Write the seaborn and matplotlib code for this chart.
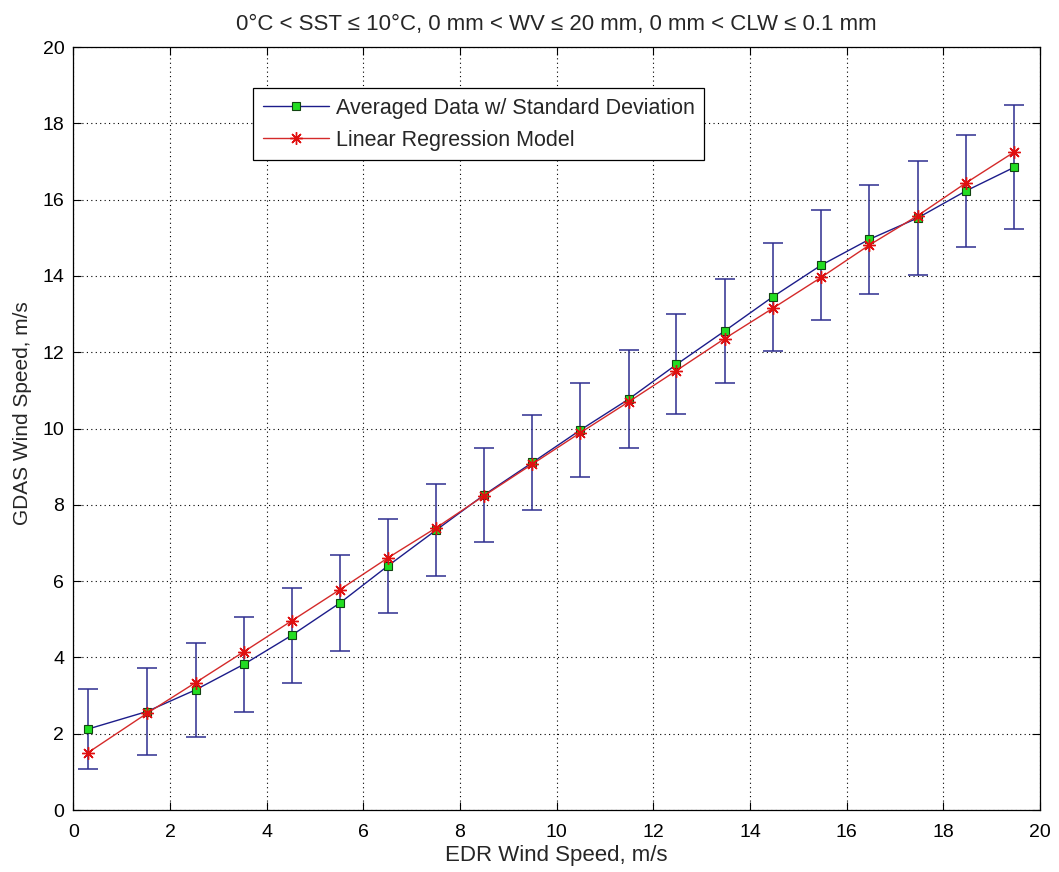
import matplotlib
matplotlib.use("Agg")
import matplotlib.pyplot as plt
import seaborn as sns
import numpy as np
import pandas as pd

# Data
edr_speed = [0.30, 1.52, 2.53, 3.53, 4.52, 5.52, 6.51, 7.51, 8.50, 9.50,
             10.49, 11.49, 12.48, 13.48, 14.47, 15.47, 16.47, 17.47, 18.47, 19.47]
gdas_mean = [2.12, 2.58, 3.15, 3.82, 4.58, 5.43, 6.40, 7.34, 8.26, 9.11,
             9.96, 10.77, 11.68, 12.56, 13.45, 14.28, 14.96, 15.52, 16.23, 16.85]
gdas_std = [1.05, 1.13, 1.24, 1.25, 1.25, 1.25, 1.24, 1.21, 1.24, 1.24,
            1.24, 1.28, 1.31, 1.36, 1.42, 1.44, 1.43, 1.50, 1.47, 1.63]
regression = [1.50, 2.53, 3.34, 4.15, 4.96, 5.78, 6.61, 7.40, 8.24, 9.07,
              9.89, 10.70, 11.52, 12.36, 13.15, 13.96, 14.81, 15.58, 16.44, 17.25]
x_ticks = list(range(0, 21, 2))
y_ticks = list(range(0, 21, 2))

title = "0\u00b0C < SST \u2264 10\u00b0C, 0 mm < WV \u2264 20 mm, 0 mm < CLW \u2264 0.1 mm"
label_avg = "Averaged Data w/ Standard Deviation"
label_reg = "Linear Regression Model"

df = pd.DataFrame({"x": edr_speed, "mean": gdas_mean, "std": gdas_std, "reg": regression})

sns.set_style("white")
plt.rcParams["font.family"] = ["Liberation Sans", "DejaVu Sans"]
plt.rcParams["font.size"] = 14

fig = plt.figure(figsize=(10.59, 8.72), dpi=100)
ax = fig.add_axes([0.0692, 0.0711, 0.9128, 0.8749])

navy = "#1c1c8a"
ax.errorbar(df["x"], df["mean"], yerr=df["std"], fmt="none", ecolor="#2e2e90",
            elinewidth=1.1, capsize=7, capthick=1.1, zorder=2)
sns.lineplot(data=df, x="x", y="mean", ax=ax, color=navy, linewidth=1.0,
             marker="s", markersize=5.5, markerfacecolor="#22dd22",
             markeredgecolor="#114411", markeredgewidth=0.8, label=label_avg,
             zorder=4, sort=False)
sns.lineplot(data=df, x="x", y="reg", ax=ax, color="#d42a2a", linewidth=1.0,
             marker=(8, 2, 0), markersize=9, markeredgecolor="#e01010",
             markeredgewidth=1.0, label=label_reg, zorder=5, sort=False)

ax.set_xlim(0, 20)
ax.set_ylim(0, 20)
ax.set_xticks(x_ticks)
ax.set_yticks(y_ticks)
ax.set_xticklabels([str(v) for v in x_ticks], fontsize=14)
ax.set_yticklabels([str(v) for v in y_ticks], fontsize=14)
ax.tick_params(direction="in", length=6, width=0.8, top=True, right=True,
               bottom=True, left=True, colors="black")
ax.tick_params(axis="x", pad=10)
ax.tick_params(axis="y", pad=6.5)
ax.grid(True, linestyle=(0, (1, 3)), color="black", linewidth=0.8)
for s in ax.spines.values():
    s.set_visible(True)
    s.set_color("black")
    s.set_linewidth(0.9)

ax.set_xlabel("EDR Wind Speed, m/s", fontsize=16)
ax.set_ylabel("GDAS Wind Speed, m/s", fontsize=15)
ax.xaxis.set_label_coords(0.5, -0.046)
ax.yaxis.set_label_coords(-0.043, 0.52)
ax.set_title(title, fontsize=16, pad=12)

leg = ax.legend(loc="upper left", bbox_to_anchor=(0.1859, 0.9463), fontsize=15.5,
                frameon=True, fancybox=False, edgecolor="black", framealpha=1,
                handlelength=3.1, borderpad=0.45, labelspacing=0.5,
                handletextpad=0.3, borderaxespad=0.0)
leg.get_frame().set_linewidth(0.9)

fig.savefig("out.png", dpi=100)
